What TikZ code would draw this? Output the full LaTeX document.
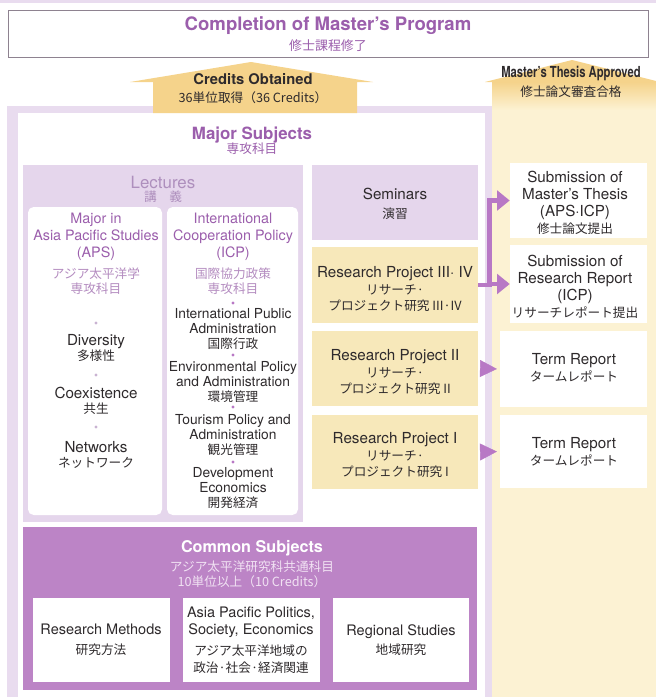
\documentclass[tikz,border=0pt]{standalone}
\usepackage{fontspec}
\setmainfont{TeX Gyre Heros}
\newfontfamily\jpfont{Noto Sans CJK JP}
\usepackage{xcolor}
\usetikzlibrary{arrows.meta, positioning, fit}

\definecolor{titlepurple}{HTML}{9B5EAC}
\definecolor{lectpurple}{HTML}{AE8FBD}
\definecolor{softpurple}{HTML}{B48CC0}
\definecolor{panellav}{HTML}{E9DCEF}
\definecolor{boxlav}{HTML}{E5D6EC}
\definecolor{commonpurple}{HTML}{BC84C6}
\definecolor{commonjp}{HTML}{F1E2F3}
\definecolor{arrowpurple}{HTML}{B878C5}
\definecolor{apsdot}{HTML}{C9B3D2}
\definecolor{boxyellow}{HTML}{F7E8BA}
\definecolor{colyellow}{HTML}{FCF2D3}
\definecolor{arrowyellow}{HTML}{F5D38B}
\definecolor{framegray}{HTML}{8E8290}
\definecolor{ink}{HTML}{2E2A2C}

\newcommand{\jp}[1]{{\jpfont\fontsize{9}{11}\selectfont #1}}

\begin{document}
\begin{tikzpicture}[x=0.025cm, y=-0.025cm,
    every node/.style={inner sep=0pt, text=ink},
    txt/.style={font=\fontsize{10.8}{12}\selectfont, align=center},
    item/.style={font=\fontsize{10.8}{10.6}\selectfont, align=center},
    icpitem/.style={font=\fontsize{9.8}{10.6}\selectfont, align=center},
    jptxt/.style={font=\jpfont\fontsize{9}{10.8}\selectfont, align=center},
    head/.style={font=\bfseries\fontsize{12}{14}\selectfont, text=titlepurple},
    sub/.style={font=\fontsize{10.2}{12}\selectfont, align=center, text=titlepurple},
    lavbox/.style={fill=boxlav, fit={#1}},
    yelbox/.style={fill=boxyellow, fit={#1}},
    whitebox/.style={fill=white, fit={#1}},
    subbox/.style={fill=white, rounded corners=4pt, fit={#1}},
    commontxt/.style={font=\fontsize{10.3}{12}\selectfont, align=center},
    forkline/.style={draw=arrowpurple, line width=3.5pt, -{Triangle[length=9pt, width=14pt]}},
    tiponly/.style={draw=arrowpurple, line width=0.3pt, shorten <=2pt, shorten >=2pt,
        -{Triangle[length=12pt, width=12pt]}}
]
\useasboundingbox (0,0) rectangle (656,697);

% background areas
\fill[panellav] (0,0) rectangle (656,3);
\fill[panellav] (7,106) rectangle (492,697);
\fill[white] (18,113) rectangle (485,697);
\fill[colyellow] (492,82) rectangle (656,697);
\shade[top color=arrowyellow, bottom color=colyellow] (492,82) rectangle (656,110);
\fill[arrowyellow] (485,82) -- (572,60) -- (660,82) -- cycle;
\fill[arrowyellow] (130,82) -- (251,62) -- (373,82) -- (357,82) -- (357,113)
    -- (153,113) -- (153,82) -- cycle;

\node[draw=framegray, line width=0.7pt, fill=white, fit={(8,10) (648,57)}] (done) {};
\node[head, font=\bfseries\fontsize{13.2}{15}\selectfont] (donetitle) at (328,26) {Completion of Master's Program};
\node[jptxt, text=titlepurple, font=\jpfont\fontsize{9.2}{11}\selectfont] (donejp) at (328,46) {修士課程修了};

\node[font=\bfseries\fontsize{10.5}{12}\selectfont] (credits) at (253,79) {Credits Obtained};
\node[jptxt] (creditsjp) at (253,98) {36単位取得（36 Credits）};
\node[font=\bfseries\fontsize{10.8}{12}\selectfont] (approved) at (571,73) {\scalebox{.74}[1]{Master's Thesis Approved}};
\node[jptxt] (approvedjp) at (571,92) {修士論文審査合格};

\node[head] (major) at (252,135) {Major Subjects};
\node[jptxt, text=titlepurple] (majorjp) at (252,149) {専攻科目};

\node[fill=boxlav, fit={(23,165) (303,522)}] (lectures) {};
\node[font=\fontsize{12}{14}\selectfont, text=lectpurple] (lecttitle) at (163,182) {Lectures};
\node[jptxt, text=lectpurple] (lectjp) at (163,197) {講　義};
\node[subbox={(28,207) (162,515)}] (aps) {};
\node[subbox={(167,207) (298,515)}] (icp) {};

\node[sub] (apshead) at (96,237) {Major in\\Asia Pacific Studies\\(APS)};
\node[jptxt, text=softpurple] (apsjp) at (96,281) {アジア太平洋学\\専攻科目};
\node[sub] (icphead) at (233,237) {International\\Cooperation Policy\\(ICP)};
\node[jptxt, text=softpurple] (icpjp) at (233,281) {国際協力政策\\専攻科目};

\foreach \y in {323,375,427}
    \fill[apsdot] (96,\y) circle (1.7);
\foreach \y in {303,355,407,462}
    \fill[arrowpurple] (233,\y) circle (1.7);

\node[item] (diversity) at (96,348) {Diversity\\\jp{多様性}};
\node[item] (coexist) at (96,401) {Coexistence\\\jp{共生}};
\node[item] (networks) at (96,455) {Networks\\\jp{ネットワーク}};

\node[icpitem] (publicadm) at (233,329) {International Public\\Administration\\\jp{国際行政}};
\node[icpitem] (envadm) at (233,382) {Environmental Policy\\and Administration\\\jp{環境管理}};
\node[icpitem] (touradm) at (233,435) {Tourism Policy and\\Administration\\\jp{観光管理}};
\node[icpitem] (develop) at (233,488) {Development\\Economics\\\jp{開発経済}};

\node[lavbox={(312,165) (478,240)}] (seminars) {};
\node[yelbox={(312,247) (478,323)}] (rp34) {};
\node[yelbox={(312,331) (478,406)}] (rp2) {};
\node[yelbox={(312,415) (478,489)}] (rp1) {};
\node[txt] (seminarstxt) at (395,204) {Seminars\\[2pt]\jp{演習}};
\node[txt] (rp34txt) at (395,289) {Research Project III· IV\\\jp{リサーチ·}\\\jp{プロジェクト研究 III·IV}};
\node[txt] (rp2txt) at (395,372) {Research Project II\\\jp{リサーチ·}\\\jp{プロジェクト研究 II}};
\node[txt] (rp1txt) at (395,455) {Research Project I\\\jp{リサーチ·}\\\jp{プロジェクト研究 I}};

\node[whitebox={(510,163) (647,238)}] (thesis) {};
\node[whitebox={(510,245) (647,323)}] (report) {};
\node[whitebox={(500,331) (647,407)}] (termii) {};
\node[whitebox={(500,415) (647,488)}] (termi) {};
\node[txt] (thesistxt) at (575,203) {Submission of\\Master's Thesis\\(APS·ICP)\\\jp{修士論文提出}};
\node[txt] (reporttxt) at (575,287) {Submission of\\Research Report\\(ICP)\\\jp{リサーチレポート提出}};
\node[txt] (termiitxt) at (574,368) {Term Report\\\jp{タームレポート}};
\node[txt] (termitxt) at (574,452) {Term Report\\\jp{タームレポート}};

\coordinate (fork) at (489.5,0);
\draw[forkline] (rp34.east) -- (rp34.east -| fork) |- (thesis.west);
\draw[forkline] (fork |- report.west) -- (report.west);
\draw[tiponly] (rp2.east) -- (termii.west);
\draw[tiponly] (rp1.east) -- (termi.west);

\node[fill=commonpurple, fit={(23,527) (477,690)}] (common) {};
\node[font=\bfseries\fontsize{11.5}{13}\selectfont, text=white] (commontitle) at (252,548) {Common Subjects};
\node[jptxt, text=commonjp] (commonsub) at (252,574) {アジア太平洋研究科共通科目\\10単位以上（10 Credits）};
\node[whitebox={(33,598) (170,682)}] (methods) {};
\node[whitebox={(183,598) (320,682)}] (politics) {};
\node[whitebox={(333,598) (469,682)}] (regional) {};
\node[commontxt] (methodstxt) at (101,640) {Research Methods\\[2pt]\jp{研究方法}};
\node[commontxt] (politicstxt) at (251,640) {Asia Pacific Politics,\\Society, Economics\\[3pt]\jp{アジア太平洋地域の}\\\jp{政治·社会·経済関連}};
\node[commontxt] (regionaltxt) at (401,640) {Regional Studies\\[2pt]\jp{地域研究}};
\end{tikzpicture}
\end{document}
